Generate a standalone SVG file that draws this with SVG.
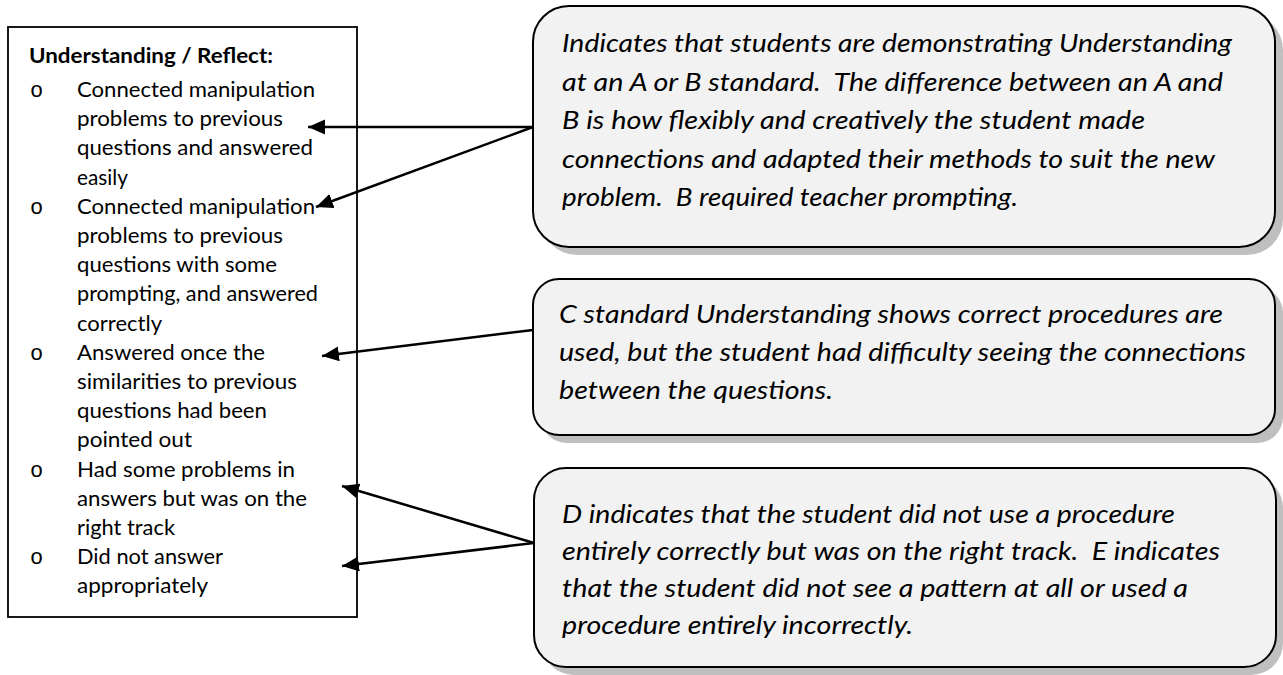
<svg xmlns="http://www.w3.org/2000/svg" width="1283" height="675" viewBox="0 0 1283 675">
  <style>
    .list { font-family: Lato, "Liberation Sans", sans-serif; font-size: 21.5px; fill: #000; }
    .title { font-weight: bold; }
    .bullet { font-family: "Liberation Mono", "DejaVu Sans Mono", monospace; font-size: 22px; fill: #000; }
    .note { font-family: Lato, "Liberation Sans", sans-serif; font-size: 25.5px; font-style: italic; fill: #000; }
    .panel { fill: #f2f2f2; stroke: #000; stroke-width: 2; }
    .shadow { fill: #bfbfbf; }
    .frame { fill: #fff; stroke: #000; stroke-width: 1.8; }
    .arrow { fill: none; stroke: #000; stroke-width: 2.5; marker-end: url(#head); }
  </style>
  <defs>
    <marker id="head" markerUnits="userSpaceOnUse" markerWidth="18" markerHeight="16" refX="17" refY="7.5" orient="auto">
      <path d="M0,0 L17,7.5 L0,15 z" fill="#000"/>
    </marker>
  </defs>

  <rect width="1283" height="675" fill="#fff"/>

  <!-- criteria list -->
  <g id="criteria-list">
    <rect class="frame" x="8" y="27" width="349" height="590"/>
    <text class="list title" x="29" y="63" textLength="244" lengthAdjust="spacingAndGlyphs">Understanding / Reflect:</text>
    <g class="bullet">
      <text x="30" y="97">o</text>
      <text x="30" y="213.8">o</text>
      <text x="30" y="359.8">o</text>
      <text x="30" y="476.6">o</text>
      <text x="30" y="564.2">o</text>
    </g>
    <g class="list">
      <text x="77" y="97" textLength="238" lengthAdjust="spacingAndGlyphs">Connected manipulation</text>
      <text x="77" y="126.2" textLength="206" lengthAdjust="spacingAndGlyphs">problems to previous</text>
      <text x="77" y="155.4" textLength="236" lengthAdjust="spacingAndGlyphs">questions and answered</text>
      <text x="77" y="184.6" textLength="51" lengthAdjust="spacingAndGlyphs">easily</text>
      <text x="77" y="213.8" textLength="238" lengthAdjust="spacingAndGlyphs">Connected manipulation</text>
      <text x="77" y="243" textLength="206" lengthAdjust="spacingAndGlyphs">problems to previous</text>
      <text x="77" y="272.2" textLength="200" lengthAdjust="spacingAndGlyphs">questions with some</text>
      <text x="77" y="301.4" textLength="241" lengthAdjust="spacingAndGlyphs">prompting, and answered</text>
      <text x="77" y="330.6" textLength="85" lengthAdjust="spacingAndGlyphs">correctly</text>
      <text x="77" y="359.8" textLength="188" lengthAdjust="spacingAndGlyphs">Answered once the</text>
      <text x="77" y="389" textLength="220" lengthAdjust="spacingAndGlyphs">similarities to previous</text>
      <text x="77" y="418.2" textLength="190" lengthAdjust="spacingAndGlyphs">questions had been</text>
      <text x="77" y="447.4" textLength="115" lengthAdjust="spacingAndGlyphs">pointed out</text>
      <text x="77" y="476.6" textLength="218" lengthAdjust="spacingAndGlyphs">Had some problems in</text>
      <text x="77" y="505.8" textLength="230" lengthAdjust="spacingAndGlyphs">answers but was on the</text>
      <text x="77" y="535" textLength="98" lengthAdjust="spacingAndGlyphs">right track</text>
      <text x="77" y="564.2" textLength="146" lengthAdjust="spacingAndGlyphs">Did not answer</text>
      <text x="77" y="593.4" textLength="131" lengthAdjust="spacingAndGlyphs">appropriately</text>
    </g>
  </g>

  <!-- A / B note -->
  <g id="note-ab">
    <rect class="shadow" x="541" y="14" width="742" height="241" rx="36"/>
    <rect class="panel" x="533" y="6" width="742" height="241" rx="36"/>
    <text class="note" x="562" y="52" textLength="670" lengthAdjust="spacingAndGlyphs">Indicates that students are demonstrating Understanding</text>
    <text class="note" x="562" y="90.5" textLength="661" lengthAdjust="spacingAndGlyphs" xml:space="preserve">at an A or B standard.  The difference between an A and</text>
    <text class="note" x="562" y="129" textLength="583" lengthAdjust="spacingAndGlyphs">B is how flexibly and creatively the student made</text>
    <text class="note" x="562" y="167.5" textLength="653" lengthAdjust="spacingAndGlyphs">connections and adapted their methods to suit the new</text>
    <text class="note" x="562" y="206" textLength="456" lengthAdjust="spacingAndGlyphs" xml:space="preserve">problem.  B required teacher prompting.</text>
  </g>

  <!-- C note -->
  <g id="note-c">
    <rect class="shadow" x="541" y="287" width="742" height="156" rx="26"/>
    <rect class="panel" x="533" y="279" width="742" height="156" rx="26"/>
    <text class="note" x="559" y="323" textLength="664" lengthAdjust="spacingAndGlyphs">C standard Understanding shows correct procedures are</text>
    <text class="note" x="559" y="361" textLength="687" lengthAdjust="spacingAndGlyphs">used, but the student had difficulty seeing the connections</text>
    <text class="note" x="559" y="399" textLength="274" lengthAdjust="spacingAndGlyphs">between the questions.</text>
  </g>

  <!-- D / E note -->
  <g id="note-de">
    <rect class="shadow" x="542" y="476" width="741" height="199" rx="32"/>
    <rect class="panel" x="534" y="468" width="742" height="199" rx="32"/>
    <text class="note" x="562" y="523" textLength="613" lengthAdjust="spacingAndGlyphs">D indicates that the student did not use a procedure</text>
    <text class="note" x="562" y="560" textLength="658" lengthAdjust="spacingAndGlyphs" xml:space="preserve">entirely correctly but was on the right track.  E indicates</text>
    <text class="note" x="562" y="597" textLength="626" lengthAdjust="spacingAndGlyphs">that the student did not see a pattern at all or used a</text>
    <text class="note" x="562" y="634" textLength="351" lengthAdjust="spacingAndGlyphs">procedure entirely incorrectly.</text>
  </g>

  <!-- connectors -->
  <g id="connectors">
    <line class="arrow" x1="533" y1="127" x2="308" y2="127"/>
    <line class="arrow" x1="533" y1="127" x2="316" y2="207"/>
    <line class="arrow" x1="533" y1="330" x2="322" y2="356"/>
    <line class="arrow" x1="534" y1="543" x2="342" y2="486"/>
    <line class="arrow" x1="534" y1="543" x2="342" y2="566"/>
  </g>
</svg>
